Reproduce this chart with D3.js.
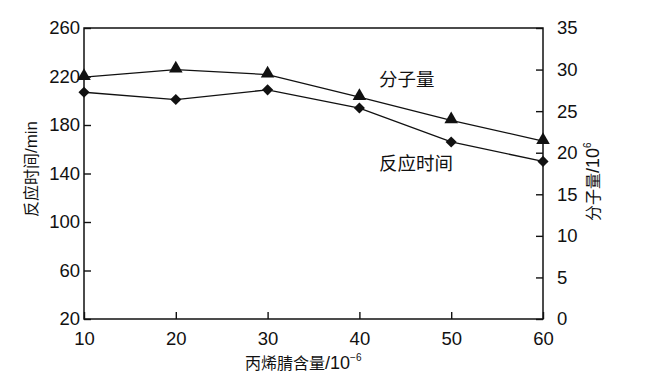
<!DOCTYPE html>
<meta charset="utf-8">
<script src="https://cdn.jsdelivr.net/npm/d3@7"></script>
<style>
  body { margin: 0; background: #fff; }
  text { fill: #111; font-family: "Liberation Sans", Arial, "Noto Sans CJK SC", sans-serif; }
  .cjk { font-family: "Noto Sans CJK SC", "Liberation Sans", sans-serif; }
  .lat { font-family: "Liberation Sans", Arial, sans-serif; }
  .line { fill: none; stroke: #111; stroke-width: 1.3px; }
</style>
<body>
<script>
  // data
  var content = [10, 20, 30, 40, 50, 60];              // 丙烯腈含量 /10^-6
  var reactionTime = [207, 201, 209, 194, 166, 150];   // 反应时间 /min
  var molWeight = [29.1, 30.0, 29.4, 26.7, 23.9, 21.4]; // 分子量 /10^6
  var leftTicks = [20, 60, 100, 140, 180, 220, 260];
  var rightTicks = [0, 5, 10, 15, 20, 25, 30, 35];
  var xTicks = [10, 20, 30, 40, 50, 60];

  var width = 648, height = 381;
  var m = { left: 84, right: 543, top: 28, bottom: 319 };

  var svg = d3.select("body").append("svg")
    .attr("width", width)
    .attr("height", height);

  var x = d3.scaleLinear().domain([10, 60]).range([m.left, m.right]);
  var yL = d3.scaleLinear().domain([20, 260]).range([m.bottom, m.top]);
  var yR = d3.scaleLinear().domain([0, 35]).range([m.bottom, m.top]);

  // frame
  svg.append("rect")
    .attr("x", m.left).attr("y", m.top)
    .attr("width", m.right - m.left).attr("height", m.bottom - m.top)
    .attr("fill", "none").attr("stroke", "#111").attr("stroke-width", 1.5);

  function styleAxis(g) {
    g.select(".domain").remove();
    g.selectAll(".tick line").attr("stroke", "#111").attr("stroke-width", 1.4);
    g.selectAll(".tick text").attr("fill", "#111")
      .style("font-size", "18.5px").style("font-family", "Liberation Sans, Arial, sans-serif");
  }

  // left axis, ticks inward
  svg.append("g")
    .attr("transform", "translate(" + m.left + ",0)")
    .call(d3.axisLeft(yL).tickValues(leftTicks).tickSizeInner(-7))
    .call(styleAxis)
    .selectAll(".tick text").attr("x", -4);

  // right axis
  svg.append("g")
    .attr("transform", "translate(" + m.right + ",0)")
    .call(d3.axisRight(yR).tickValues(rightTicks).tickSizeInner(-7))
    .call(styleAxis)
    .selectAll(".tick text").attr("x", 14);

  // bottom axis
  svg.append("g")
    .attr("transform", "translate(0," + m.bottom + ")")
    .call(d3.axisBottom(x).tickValues(xTicks).tickSizeInner(-7))
    .call(styleAxis)
    .selectAll(".tick text").attr("y", 13);

  // lines
  var lineL = d3.line().x(function (d, i) { return x(content[i]); }).y(function (d) { return yL(d); });
  var lineR = d3.line().x(function (d, i) { return x(content[i]); }).y(function (d) { return yR(d); });

  svg.append("path").datum(molWeight).attr("class", "line").attr("d", lineR);
  svg.append("path").datum(reactionTime).attr("class", "line").attr("d", lineL);

  var tri = d3.symbol().type(d3.symbolTriangle).size(80);
  var sq = d3.symbol().type(d3.symbolSquare).size(62);

  svg.selectAll(".tri").data(molWeight).enter().append("path")
    .attr("class", "tri")
    .attr("d", tri)
    .attr("fill", "#111")
    .attr("transform", function (d, i) { return "translate(" + x(content[i]) + "," + (yR(d) - 1) + ")"; });

  svg.selectAll(".dia").data(reactionTime).enter().append("path")
    .attr("class", "dia")
    .attr("d", sq)
    .attr("fill", "#111")
    .attr("transform", function (d, i) { return "translate(" + x(content[i]) + "," + yL(d) + ") rotate(45)"; });

  // series labels
  svg.append("text").attr("class", "cjk")
    .attr("x", 379).attr("y", 86)
    .style("font-size", "18.5px")
    .text("分子量");
  svg.append("text").attr("class", "cjk")
    .attr("x", 379).attr("y", 170)
    .style("font-size", "18.5px")
    .text("反应时间");

  // axis titles
  var xt = svg.append("text")
    .attr("x", 245).attr("y", 369);
  xt.append("tspan").attr("class", "cjk").style("font-size", "16px").text("丙烯腈含量");
  xt.append("tspan").attr("class", "lat").style("font-size", "18px").text("/10");
  xt.append("tspan").attr("class", "lat").attr("dy", -8).style("font-size", "10px").text("−6");

  var lt = svg.append("text")
    .attr("transform", "translate(37,169) rotate(-90)")
    .attr("text-anchor", "middle");
  lt.append("tspan").attr("class", "cjk").style("font-size", "16px").text("反应时间");
  lt.append("tspan").attr("class", "lat").style("font-size", "17px").text("/min");

  var rt = svg.append("text")
    .attr("transform", "translate(599,221) rotate(-90)");
  rt.append("tspan").attr("class", "cjk").style("font-size", "16px").text("分子量");
  rt.append("tspan").attr("class", "lat").style("font-size", "18px").text("/10");
  rt.append("tspan").attr("class", "lat").attr("dy", -8).style("font-size", "10px").text("6");
</script>
</body>
